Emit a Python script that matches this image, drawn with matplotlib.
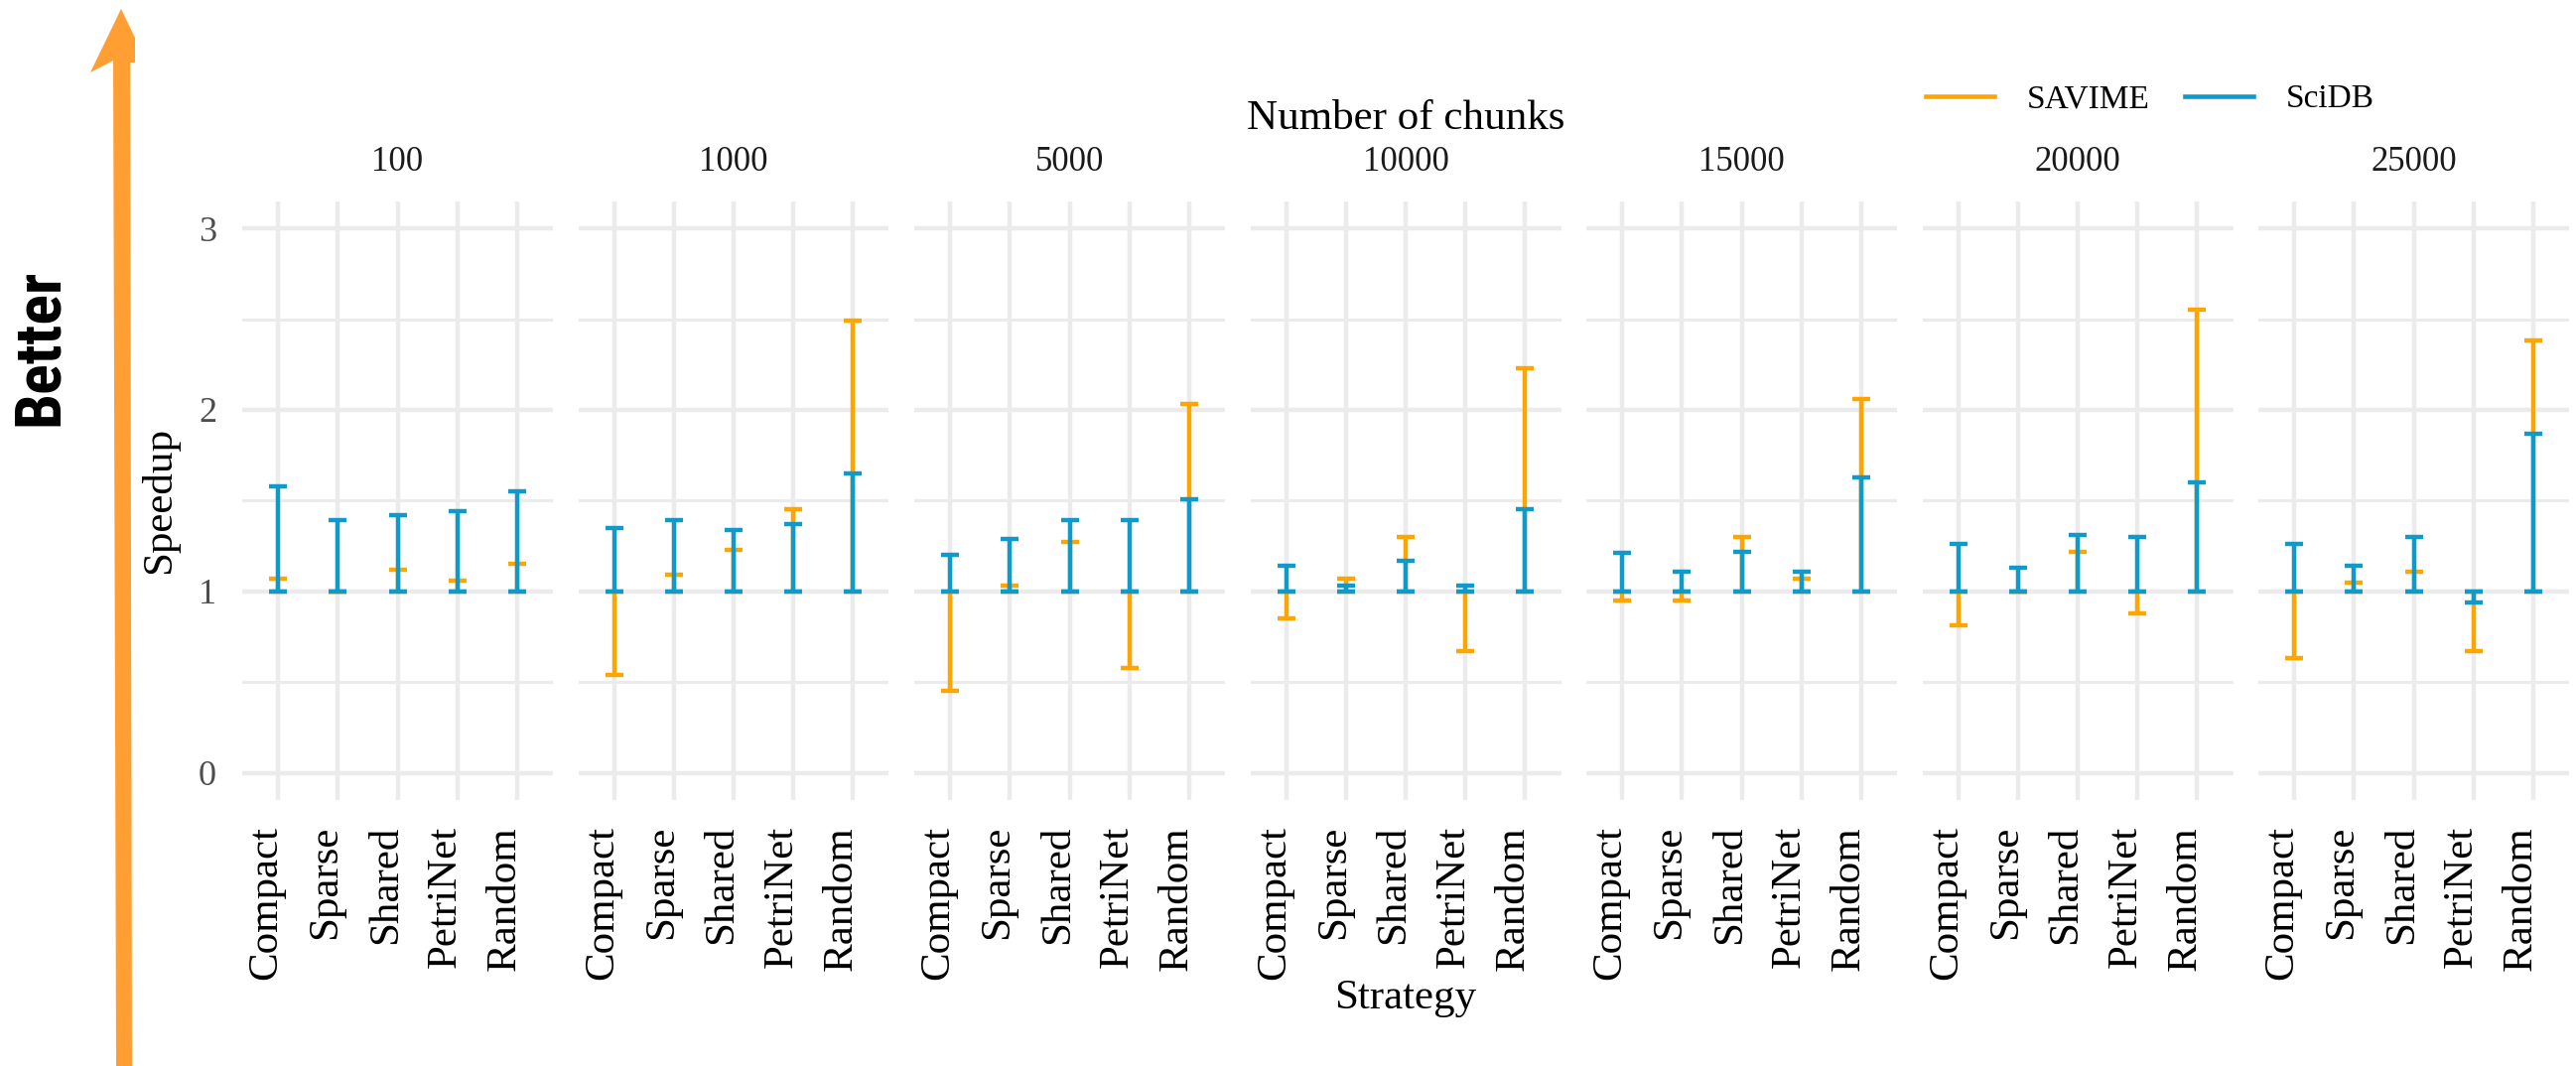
import matplotlib
matplotlib.use('Agg')
import matplotlib.pyplot as plt
from matplotlib.patches import Polygon
from matplotlib.lines import Line2D
from matplotlib.ticker import FixedLocator
from matplotlib.transforms import ScaledTranslation
import numpy as np

strategies = ['Compact', 'Sparse', 'Shared', 'PetriNet', 'Random']
chunks = ['100', '1000', '5000', '10000', '15000', '20000', '25000']

# speedup per chunk count (rows) and strategy (columns)
savime = [
    [1.07, 1.00, 1.12, 1.06, 1.15],
    [0.54, 1.09, 1.23, 1.45, 2.49],
    [0.45, 1.03, 1.27, 0.58, 2.03],
    [0.85, 1.07, 1.30, 0.67, 2.23],
    [0.95, 0.95, 1.30, 1.07, 2.06],
    [0.81, 1.00, 1.22, 0.88, 2.55],
    [0.63, 1.05, 1.11, 0.67, 2.38],
]
scidb = [
    [1.58, 1.39, 1.42, 1.44, 1.55],
    [1.35, 1.39, 1.34, 1.37, 1.65],
    [1.20, 1.29, 1.39, 1.39, 1.51],
    [1.14, 1.03, 1.17, 1.03, 1.45],
    [1.21, 1.11, 1.22, 1.11, 1.63],
    [1.26, 1.13, 1.31, 1.30, 1.60],
    [1.26, 1.14, 1.30, 0.94, 1.87],
]

orange = '#FFA500'
blue = '#0E9BCB'
arrow_color = '#FF9F33'
grid_color = '#EBEBEB'

plt.rcParams['font.family'] = ['Liberation Serif', 'DejaVu Serif']

W, H = 2595, 1074
fig = plt.figure(figsize=(W / 100, H / 100), dpi=100)

panel_left = 244
panel_w = 313
panel_step = 338.5
panel_top = 202.7
panel_bottom = 806

x = np.arange(1, len(strategies) + 1)
label_shift = ScaledTranslation(-12 / 100, 0, fig.dpi_scale_trans)


def draw_bars(ax, vals, color):
    v = np.array(vals)
    lower = np.clip(1 - v, 0, None)
    upper = np.clip(v - 1, 0, None)
    ax.errorbar(x, np.ones(len(v)), yerr=[lower, upper], fmt='none',
                ecolor=color, elinewidth=3.2, capsize=6.5, capthick=3.2)


for k, name in enumerate(chunks):
    left = (panel_left + k * panel_step) / W
    ax = fig.add_axes([left, 1 - panel_bottom / H, panel_w / W, (panel_bottom - panel_top) / H])
    draw_bars(ax, savime[k], orange)
    draw_bars(ax, scidb[k], blue)

    ax.set_xlim(0.4, 5.6)
    ax.set_ylim(-0.15, 3.15)
    ax.set_xticks(x)
    ax.set_xticklabels(strategies, rotation=90, fontsize=31, color='black')
    ax.set_yticks([0, 1, 2, 3])
    ax.yaxis.set_minor_locator(FixedLocator([0.5, 1.5, 2.5]))
    ax.tick_params(axis='both', which='both', length=0)
    ax.tick_params(axis='x', pad=18.7)
    ax.tick_params(axis='y', pad=18.7, labelsize=26, labelcolor='#4D4D4D')
    if k > 0:
        ax.tick_params(axis='y', labelleft=False)
    for lab in ax.get_xticklabels():
        lab.set_transform(lab.get_transform() + label_shift)
    ax.grid(True, which='major', color=grid_color, lw=3.2)
    ax.grid(True, which='minor', axis='y', color=grid_color, lw=2.2)
    ax.set_axisbelow(True)
    for s in ax.spines.values():
        s.set_visible(False)
    ax.text(0.5, (panel_bottom - 164) / (panel_bottom - panel_top), name,
            transform=ax.transAxes, ha='center', va='center', fontsize=25, color='#1A1A1A')

cx = (panel_left + 6 * panel_step + panel_w + panel_left) / 2 / W
fig.text(cx, 1 - 120 / H, 'Number of chunks', ha='center', va='center', fontsize=31)
fig.text(cx, 1 - 1006 / H, 'Strategy', ha='center', va='center', fontsize=31)
fig.text(161 / W, 1 - 504 / H, 'Speedup', ha='center', va='center', rotation=90, fontsize=31)

handles = [Line2D([], [], color=orange, lw=3.3), Line2D([], [], color=blue, lw=3.3)]
fig.legend(handles, ['SAVIME', 'SciDB'], ncol=2, loc='center left',
           bbox_to_anchor=(1940 / W, 1 - 100 / H), frameon=False, fontsize=24,
           handlelength=2.06, handletextpad=1.0, columnspacing=1.06,
           borderaxespad=0, borderpad=0)

# "Better" arrow on the left
arrow_pts = [(117, 1074), (114, 61), (91, 73), (122, 9), (136, 38),
             (136, 63), (131, 63), (133, 1074)]
arrow_pts = [(px / W, 1 - py / H) for px, py in arrow_pts]
fig.add_artist(Polygon(arrow_pts, closed=True, transform=fig.transFigure,
                       facecolor=arrow_color, edgecolor='none'))
better = fig.text(40 / W, 1 - 350 / H, 'Better', ha='center', va='center', rotation=90,
                  fontsize=50, fontweight='bold', fontstretch='condensed',
                  family=['Roboto Condensed', 'Liberation Sans Narrow',
                          'Noto Sans Condensed', 'DejaVu Sans'])
# scale the word to the length it has in the original
ext = better.get_window_extent(fig.canvas.get_renderer())
better.set_fontsize(50 * 158 / ext.height)

fig.savefig('out.png', dpi=100)
